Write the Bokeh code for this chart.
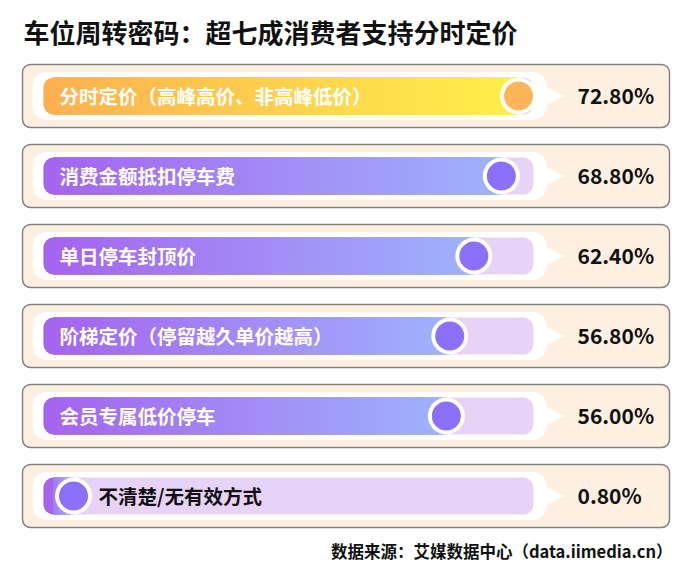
from bokeh.plotting import figure
from bokeh.models import Range1d, ColumnDataSource
from bokeh.core.properties import value
from bokeh.embed import file_html
from bokeh.resources import INLINE

# ---------------- data ----------------
title_text = "车位周转密码：超七成消费者支持分时定价"
source_text = "数据来源：艾媒数据中心（data.iimedia.cn）"
categories = [
    "分时定价（高峰高价、非高峰低价）",
    "消费金额抵扣停车费",
    "单日停车封顶价",
    "阶梯定价（停留越久单价越高）",
    "会员专属低价停车",
    "不清楚/无有效方式",
]
values = [72.8, 68.8, 62.4, 56.8, 56.0, 0.8]
value_labels = ["72.80%", "68.80%", "62.40%", "56.80%", "56.00%", "0.80%"]

# ---------------- styling / layout ----------------
FONT = "Noto Sans CJK SC"
W, H = 700, 569
PX_PER_UNIT = 4.3           # horizontal scale: pixels per percentage point
ZERO_PX = 205.0             # pixel x where 0% sits (zoomed scale)
ROW_PX = 80                 # vertical spacing between cards
ROW0_PX = 95.5              # pixel y of first row centre
SMALL = 10                  # values below this sit at the start of the track


def X(px):
    return (px - ZERO_PX) / PX_PER_UNIT


def Y(py):
    return (py - ROW0_PX) / ROW_PX


def DY(h):
    return h / ROW_PX


XMIN, XMAX = X(0), X(W)
YBOT, YTOP = Y(H), Y(0)

p = figure(width=W, height=H, x_range=Range1d(XMIN, XMAX), y_range=Range1d(YBOT, YTOP),
           output_backend="svg", toolbar_location=None, min_border=0,
           x_axis_location=None, y_axis_location=None)
p.grid.visible = False
p.outline_line_color = None
p.background_fill_color = "white"
p.border_fill_color = "white"

n = len(categories)
rows = list(range(n))

# cards
p.hbar(y=rows, height=DY(63), left=X(22), right=X(669), fill_color="#FDF0E0",
       line_color="#808080", line_width=1.5, border_radius=8)
# white pill
p.hbar(y=rows, height=DY(48), left=X(32), right=X(546), fill_color="white",
       line_color=None, border_radius=14)
# pointer triangles
p.patches(xs=[[X(538), X(564), X(538)] for _ in rows],
          ys=[[r - DY(13), r, r + DY(13)] for r in rows],
          fill_color="white", line_color=None)
# tracks
p.hbar(y=rows, height=DY(37), left=X(43), right=X(533), fill_color="#E8D3F8",
       line_color=None, border_radius=10)

MIN_DOT = X(73)
dots = [v if v >= SMALL else MIN_DOT for v in values]


def hex2rgb(h):
    h = h.lstrip("#")
    return tuple(int(h[i:i + 2], 16) for i in (0, 2, 4))


def lerp(c1, c2, t):
    a, b = hex2rgb(c1), hex2rgb(c2)
    return "#%02x%02x%02x" % tuple(int(round(a[k] + (b[k] - a[k]) * t)) for k in range(3))


grad = [("#FDB050", "#FFF24A")] + [("#A563EF", "#9FB4FD")] * (n - 1)
dot_colors = ["#FDB55A"] + ["#8A70FA"] * (n - 1)

bar_left = X(43)
# rounded base of gradient bars (start colour)
p.hbar(y=rows, height=DY(37), left=bar_left, right=dots,
       fill_color=[g[0] for g in grad], line_color=None, border_radius=10)

# gradient slices
sl = dict(left=[], right=[], top=[], bottom=[], color=[])
step = 2 / PX_PER_UNIT
r_units = 10 / PX_PER_UNIT
for r, d, (c1, c2) in zip(rows, dots, grad):
    x = bar_left + r_units
    total = d - bar_left
    while x < d:
        x2 = min(x + step, d)
        t = ((x + x2) / 2 - bar_left) / total
        sl["left"].append(x)
        sl["right"].append(x2)
        sl["top"].append(r - DY(18.5))
        sl["bottom"].append(r + DY(18.5))
        sl["color"].append(lerp(c1, c2, t))
        x = x2
p.quad(left="left", right="right", top="top", bottom="bottom", fill_color="color",
       line_color="color", line_width=0.6, source=ColumnDataSource(sl))

# dots
p.scatter(x=dots, y=rows, size=37, marker="circle", fill_color="white", line_color=None)
p.scatter(x=dots, y=rows, size=29, marker="circle", fill_color=dot_colors, line_color=None)

# labels
lab_x, lab_c = [], []
for v, d in zip(values, dots):
    if v >= SMALL:
        lab_x.append(X(59))
        lab_c.append("white")
    else:
        lab_x.append(d + 25 / PX_PER_UNIT)
        lab_c.append("#111111")
p.text(x=lab_x, y=[r - DY(1) for r in rows], text=categories, text_color=lab_c, text_font=value(FONT),
       text_font_style="bold", text_font_size="19.5px", text_baseline="middle", text_align="left")

# values
p.text(x=[X(577)] * n, y=[r - DY(1) for r in rows], text=value_labels, text_color="#111111",
       text_font=value(FONT), text_font_style="bold", text_font_size="21px",
       text_baseline="middle", text_align="left")

# title and source
p.text(x=[X(23)], y=[Y(31)], text=[title_text], text_color="#111111", text_font=value(FONT),
       text_font_style="bold", text_font_size="26px", text_baseline="middle", text_align="left")
p.text(x=[X(672)], y=[Y(550)], text=[source_text], text_color="#111111", text_font=value(FONT),
       text_font_style="bold", text_font_size="16.5px", text_baseline="middle", text_align="right")

open("out.html", "w").write(file_html(p, INLINE))
